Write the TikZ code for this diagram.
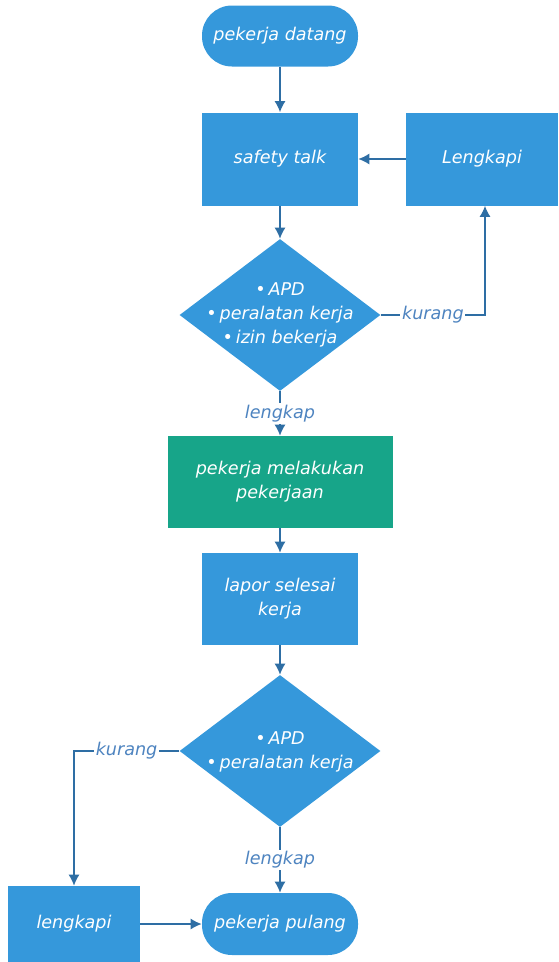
\documentclass[tikz,border=0pt]{standalone}
\usepackage{fontspec}
\setmainfont{DejaVu Sans}
\usetikzlibrary{arrows,arrows.meta,shapes.geometric}

\definecolor{boxblue}{RGB}{53,152,219}
\definecolor{boxgreen}{RGB}{23,165,137}
\definecolor{linkblue}{RGB}{46,110,164}
\definecolor{lblblue}{RGB}{78,132,192}

\begin{document}
\begin{tikzpicture}[
		txt/.style={text=white,font=\itshape\fontsize{10}{13.5}\selectfont,align=center},
		proc/.style={txt,rectangle,fill=boxblue,minimum width=3.12cm,minimum height=1.86cm},
		term/.style={txt,rectangle,rounded corners=0.6cm,fill=boxblue,minimum width=3.12cm,minimum height=1.22cm},
		dec/.style={diamond,fill=boxblue,minimum width=4.02cm,minimum height=3.04cm,inner sep=0pt},
		link/.style={draw=linkblue,line width=0.7pt,-{Latex[length=2.2mm,width=2.2mm]}},
		lbl/.style={fill=white,text=lblblue,font=\itshape\fontsize{10}{12}\selectfont,inner sep=1pt}
	]
		\useasboundingbox (0,0) rectangle (11.18,-19.24);
		% top part
		\node[term] (datang) at (5.6,-0.72) {pekerja datang};
		\node[proc] (talk) at (5.6,-3.18) {safety talk};
		\node[proc,minimum width=3.04cm] (lengkapiA) at (9.64,-3.18) {Lengkapi};
		\node[dec] (cekA) at (5.6,-6.3) {};
		\node[txt] at (cekA) {•\,APD\\ •\,peralatan kerja\\ •\,izin bekerja};
		% middle part
		\node[proc,fill=boxgreen,minimum width=4.5cm,minimum height=1.84cm] (kerja) at (5.6,-9.64) {pekerja melakukan\\ pekerjaan};
		\node[proc,minimum height=1.84cm] (lapor) at (5.6,-11.98) {lapor selesai\\ kerja};
		\node[dec] (cekB) at (5.6,-15.02) {};
		\node[txt] at ([yshift=-0.02cm]cekB) {•\,APD\\ •\,peralatan kerja};
		% bottom part
		\node[proc,minimum width=2.64cm,minimum height=1.52cm] (lengkapiB) at (1.48,-18.48) {lengkapi};
		\node[term,minimum height=1.24cm] (pulang) at (5.6,-18.48) {pekerja pulang};

		\draw[link] (datang) -- (talk);
		\draw[link] (lengkapiA) -- (talk);
		\draw[link] (talk) -- (cekA);
		\draw[link] (cekA.east) -| node[lbl,pos=0.25] {kurang} ([xshift=0.06cm]lengkapiA.south);
		\draw[link] (cekA) -- node[lbl] {lengkap} (kerja);
		\draw[link] (kerja) -- (lapor);
		\draw[link] (lapor) -- (cekB);
		\draw[link] (cekB.west) -| node[lbl,pos=0.25] {kurang} (lengkapiB.north);
		\draw[link] (cekB) -- node[lbl] {lengkap} (pulang);
		\draw[link] (lengkapiB) -- (pulang);
	\end{tikzpicture}
\end{document}
